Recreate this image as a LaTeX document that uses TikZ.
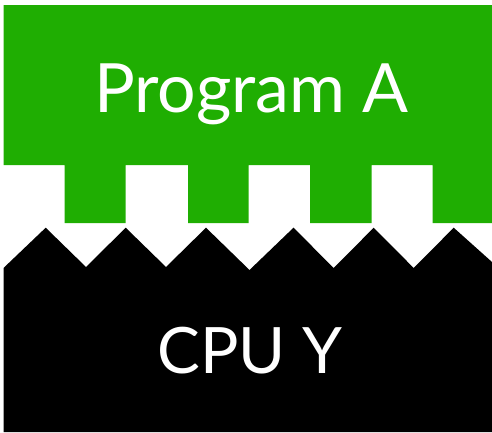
\documentclass[tikz,border=0pt]{standalone}
\usepackage{fontspec}
\setmainfont{Lato}
\definecolor{progGreen}{RGB}{31,174,2}
\tikzset{
  progshape/.style={fill=progGreen, draw=none},
  cpushape/.style={fill=black, draw=none},
  bigtext/.style={text=white, anchor=base, inner sep=0pt},
}
\begin{document}
\begin{tikzpicture}[x=1pt,y=-1pt]
\useasboundingbox (0,0) rectangle (492,432);
% Program A (green, with teeth)
\path[progshape] (3.5,5) -- (492,5) -- (492,223) -- (432.7,223) -- (432.7,165)
  -- (371.5,165) -- (371.5,223) -- (310,223) -- (310,165)
  -- (248.7,165) -- (248.7,223) -- (188,223) -- (188,165)
  -- (125.7,165) -- (125.7,223) -- (64.5,223) -- (64.5,165)
  -- (3.5,165) -- cycle;
% CPU Y (black, sawtooth top)
\path[cpushape] (3.5,432) -- (3.5,268) -- (45.7,227.7) -- (86,267) -- (125.7,227.7)
  -- (166,267) -- (206,227.7) -- (249.5,270) -- (293.5,227.7) -- (333.7,268)
  -- (373.7,227.7) -- (413.7,268) -- (453.7,227.7) -- (492,262) -- (492,432) -- cycle;
\node[bigtext, font=\fontsize{68}{68}\selectfont] (proga) at (251.5,112) {Program A};
\node[bigtext, font=\fontsize{64}{64}\selectfont] (cpuy) at (250,373) {CPU Y};
\end{tikzpicture}
\end{document}
